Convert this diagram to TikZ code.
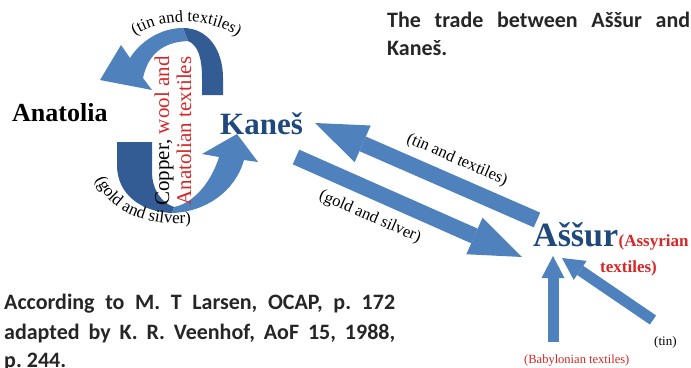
\documentclass[tikz,border=0pt]{standalone}
\usepackage{fontspec}
\setmainfont{Liberation Serif}
\newfontfamily\notefont{Carlito}
\usetikzlibrary{arrows.meta,positioning,decorations.text}
\frenchspacing

\definecolor{cityblue}{RGB}{31,73,125}
\definecolor{flowblue}{RGB}{79,129,189}
\definecolor{flowdark}{RGB}{52,92,148}
\definecolor{warered}{RGB}{214,38,38}

\begin{document}
\begin{tikzpicture}[x=1pt, y=-1pt,
    city/.style={inner sep=0pt, anchor=base west, text=cityblue, font=\bfseries\fontsize{31}{31}\selectfont},
    note/.style={inner sep=0pt, anchor=base west, text=black!85, font=\notefont\bfseries\fontsize{22}{22}\selectfont},
    goods/.style={inner sep=0pt, font=\fontsize{16.5}{16.5}\selectfont},
    redgoods/.style={inner sep=0pt, anchor=base west, text=warered, font=\bfseries\fontsize{17}{17}\selectfont},
    bigflow/.style={flowblue, line width=16pt, -{Triangle[width=40pt,length=52pt,line width=0pt]}},
    smallflow/.style={flowblue, line width=11pt, -{Triangle[width=23pt,length=22pt,line width=0pt]}}]

    \useasboundingbox (0,0) rectangle (691,367);

    % round trip Kanes - Anatolia
    \fill[flowdark] (183,28) .. controls (208,28) and (223,50) .. (223,78) -- (223,95) -- (202,95) -- (202,78) .. controls (202,58) and (198,45) .. (188,41) -- cycle;
    \fill[flowblue] (183,28) .. controls (160,28) and (140,42) .. (130,58) -- (121,45) -- (100,80) -- (152,90) -- (143,78) .. controls (148,55) and (162,42) .. (188,41) -- cycle;
    \fill[flowdark] (117,142) -- (117,165) .. controls (117,195) and (142,212) .. (172,213) -- (174,207) .. controls (162,203) and (152,190) .. (152,172) -- (152,142) -- cycle;
    \fill[flowblue] (172,213) .. controls (205,212) and (235,192) .. (244,160) -- (258,162) -- (237,134) -- (202,154) -- (219,157) .. controls (212,180) and (195,203) .. (174,207) -- cycle;

    \path[decorate, decoration={text along path, text align=center, text={|\fontsize{16.5}{16.5}\selectfont|(tin and textiles)}}] (124,44) .. controls (150,17) and (215,11) .. (248,46);
    \path[decorate, decoration={text along path, text align=center, text={|\fontsize{17}{17}\selectfont|(gold and silver)}}] (91,163) .. controls (99,210) and (142,230) .. (208,222);

    % caravan road
    \coordinate (kanesIn)  at (315,123);
    \coordinate (assurOut) at (537,220);
    \coordinate (kanesOut) at (296,157);
    \coordinate (assurIn)  at (522,257);
    \coordinate (babIn)    at (553,256);
    \coordinate (babOut)   at (553,342);
    \coordinate (tinIn)    at (562,258);
    \coordinate (tinOut)   at (653,320);

    \draw[bigflow]   (assurOut) -- (kanesIn);
    \draw[bigflow]   (kanesOut) -- (assurIn);
    \draw[smallflow] (babOut)   -- (babIn);
    \draw[smallflow] (tinOut)   -- (tinIn);

    \node[goods, rotate=-23.5] (tintext)  at (457,160) {(tin and textiles)};
    \node[goods, rotate=-23.5] (goldtext) at (370,217) {(gold and silver)};

    % places
    \node[city, text=black, font=\bfseries\fontsize{26}{26}\selectfont] (anatolia) at (12,121) {Anatolia};
    \node[city] (kanes) at (220,134) {Kaneš};
    \node[city, font=\bfseries\fontsize{34}{34}\selectfont] (assur) at (533,246) {Aššur};
    \node[redgoods, right=0pt of assur.base east, anchor=base west] (assyrian) {(Assyrian};
    \node[redgoods] (assyrian2) at (600,272) {textiles)};

    \node[rotate=90, align=center, inner sep=0pt, font=\fontsize{21}{22}\selectfont] (cargo) at (173,131)
        {Copper, \textcolor{warered}{wool and}\\\textcolor{warered}{Anatolian textiles}};

    \node[goods, anchor=base west, text=warered, font=\fontsize{12.5}{12.5}\selectfont] (babylon) at (524,363) {(Babylonian textiles)};
    \node[goods, anchor=base west, font=\fontsize{13}{13}\selectfont] (tin) at (654,345) {(tin)};

    % title and source
    \node[note] (title)  at (387,27) {\makebox[303pt][s]{The trade between Aššur and}};
    \node[note] (title2) at (387,55) {Kaneš.};

    \node[note] (src1) at (4,309) {\makebox[391pt][s]{According to M. T Larsen, OCAP, p. 172}};
    \node[note] (src2) at (4,339) {\makebox[391pt][s]{adapted by K. R. Veenhof, AoF 15, 1988,}};
    \node[note] (src3) at (4,367) {p. 244.};

\end{tikzpicture}
\end{document}
